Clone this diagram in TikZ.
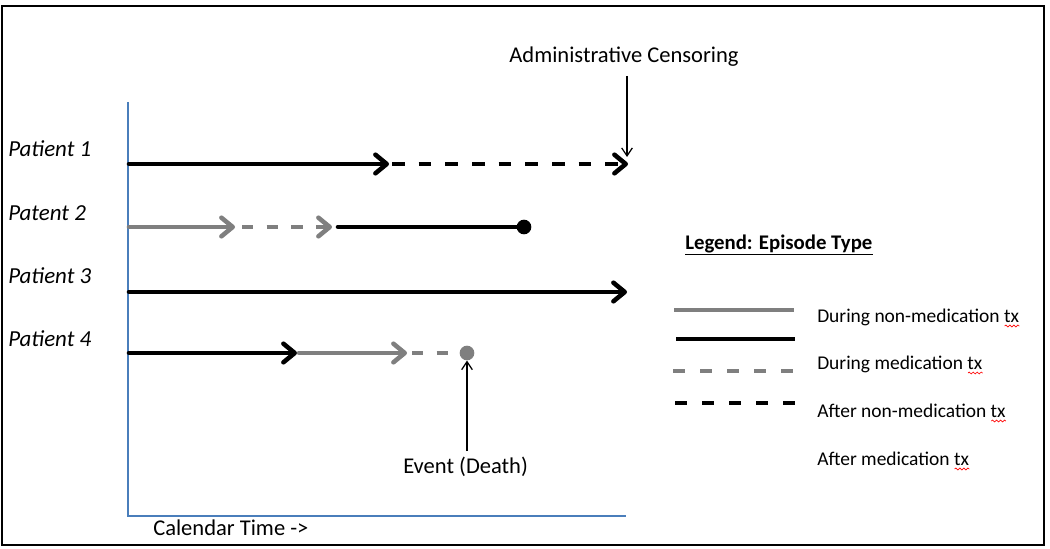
\documentclass[tikz,border=0pt]{standalone}
\usepackage{fontspec}
\setmainfont{Carlito}
\usetikzlibrary{arrows.meta,decorations.pathmorphing}
\definecolor{epgray}{HTML}{7F7F7F}
\definecolor{axblue}{HTML}{4A7EBB}
\begin{document}
\begin{tikzpicture}[x=0.75pt,y=-0.75pt,
  lbl/.style={anchor=base west,inner sep=0,font=\fontsize{16.9pt}{20pt}\selectfont},
  plbl/.style={lbl,font=\fontsize{17.2pt}{20pt}\selectfont\itshape},
  leglbl/.style={anchor=base west,inner sep=0,font=\fontsize{14.6pt}{17pt}\selectfont},
  epblack/.style={line width=3.4pt,line cap=round,black},
  epgrey/.style={line width=3.4pt,line cap=round,epgray},
  epdash/.style={line cap=butt,dash pattern=on 9.5pt off 10.5pt},
  epdashs/.style={line cap=butt,dash pattern=on 8.5pt off 10pt},
  bigtip/.style={-{Straight Barb[length=8.5pt,width=14pt,line cap=round,line join=round]}},
  thinarrow/.style={line width=0.9pt,-{Straight Barb[length=6pt,width=8pt]}},
  enddot/.style={circle,inner sep=0,minimum size=11pt},
  axis/.style={axblue,line width=1.1pt},
  spell/.style={red,line width=0.5pt,decorate,decoration={snake,amplitude=0.7pt,segment length=3pt}}]
\useasboundingbox (0,0) rectangle (1050,549);
% frame
\draw[line width=1.6pt] (2,6) rectangle (1044,545);
% axes
\coordinate (axtop) at (128,102);
\coordinate (axorig) at (128,516);
\coordinate (axright) at (626,516);
\draw[axis] (axtop) -- (axorig) -- (axright);
\node[lbl] (caltime) at (153,535) {Calendar Time ->};
% patient labels
\node[plbl] (pl1) at (8,157) {Patient 1};
\node[plbl] (pl2) at (8,220) {Patent 2};
\node[plbl] (pl3) at (8,283) {Patient 3};
\node[plbl] (pl4) at (8,346) {Patient 4};
% patient 1
\coordinate (p1a) at (129,164);
\coordinate (p1b) at (389,164);
\coordinate (p1c) at (392,164);
\coordinate (p1d) at (628,164);
\draw[epblack,bigtip] (p1a) -- (p1b);
\draw[epblack,epdash,bigtip] (p1c) -- (p1d);
% patient 2
\coordinate (p2a) at (129,227);
\coordinate (p2b) at (235,227);
\coordinate (p2c) at (242,227);
\coordinate (p2d) at (332,227);
\coordinate (p2e) at (338,227);
\node[enddot,fill=black] (p2dot) at (524,227) {};
\draw[epgrey,bigtip] (p2a) -- (p2b);
\draw[epgrey,epdashs,bigtip] (p2c) -- (p2d);
\draw[epblack] (p2e) -- (p2dot.center);
% patient 3
\coordinate (p3a) at (129,292);
\coordinate (p3b) at (627,292);
\draw[epblack,bigtip] (p3a) -- (p3b);
% patient 4
\coordinate (p4a) at (129,353);
\coordinate (p4b) at (297,353);
\coordinate (p4c) at (299,353);
\coordinate (p4d) at (407,353);
\coordinate (p4e) at (412,353);
\node[enddot,fill=epgray] (p4dot) at (467,353) {};
\draw[epblack,bigtip] (p4a) -- (p4b);
\draw[epgrey,bigtip] (p4c) -- (p4d);
\draw[epgrey,epdashs] (p4e) -- (p4dot.west);
% event
\node[lbl] (event) at (403,473) {Event (Death)};
\coordinate (evstart) at (467,451);
\draw[thinarrow] (evstart) -- (p4dot.south);
% administrative censoring
\node[lbl,anchor=base] (admin) at (624,63) {Administrative Censoring};
\coordinate (adstart) at (627,76);
\coordinate (adend) at (627,157);
\draw[thinarrow] (adstart) -- (adend);
% legend
\node[anchor=base west,inner sep=0,font=\fontsize{15.6pt}{18pt}\selectfont\bfseries] (legtitle) at (685,249) {Legend: Episode Type};
\draw[line width=1pt] ([yshift=-4pt]legtitle.base west) -- ([yshift=-4pt]legtitle.base east);
\coordinate (l1a) at (674,310); \coordinate (l1b) at (794,310);
\coordinate (l2a) at (676,339); \coordinate (l2b) at (795,339);
\coordinate (l3a) at (673,371); \coordinate (l3b) at (800,371);
\coordinate (l4a) at (675,403); \coordinate (l4b) at (802,403);
\draw[epgrey,line cap=butt] (l1a) -- (l1b);
\draw[epblack,line cap=butt] (l2a) -- (l2b);
\draw[epgrey,line cap=butt,dash pattern=on 9pt off 11.3pt] (l3a) -- (l3b);
\draw[epblack,line cap=butt,dash pattern=on 9pt off 11.3pt] (l4a) -- (l4b);
\node[leglbl] (lt1) at (817,322) {During non-medication tx};
\node[leglbl] (lt2) at (817,369) {During medication tx};
\node[leglbl] (lt3) at (817,417) {After non-medication tx};
\node[leglbl] (lt4) at (817,465) {After medication tx};
\foreach \n in {lt1,lt2,lt3,lt4}{
  \draw[spell] ([xshift=-11pt,yshift=-3pt]\n.base east) -- ([yshift=-3pt]\n.base east);
}
\end{tikzpicture}
\end{document}
